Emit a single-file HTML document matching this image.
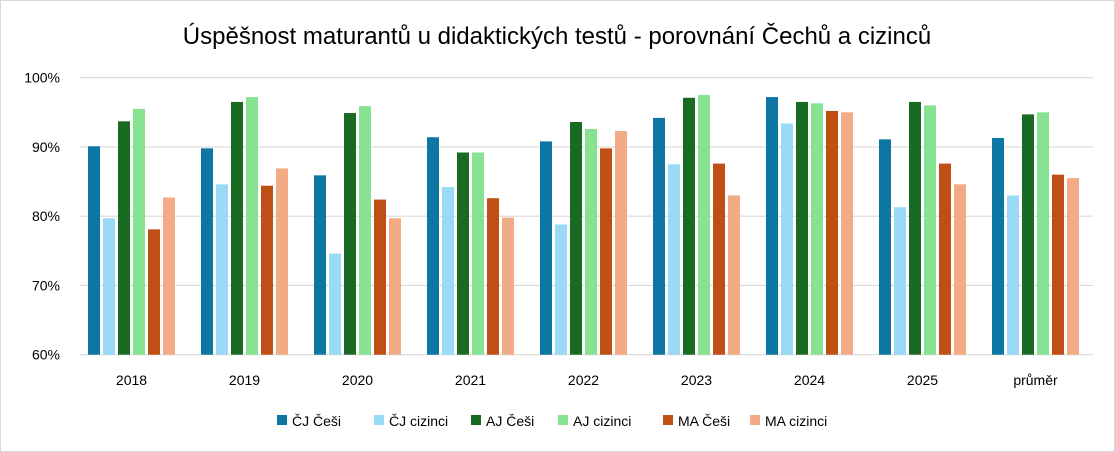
<!DOCTYPE html>
<html><head><meta charset="utf-8"><style>
body{margin:0;background:#fff;font-family:"Liberation Sans","DejaVu Sans",sans-serif}
#wrap{position:relative;width:1115px;height:452px;overflow:hidden}
</style></head><body>
<div id="wrap">
<svg id="chart" width="1115" height="452">
<rect x="0.5" y="0.5" width="1114" height="451" fill="#fff" stroke="#d9d9d9"/>
<text x="557" y="44" text-anchor="middle" font-size="24" fill="#000">Úspěšnost maturantů u didaktických testů - porovnání Čechů a cizinců</text>
<g id="grid"></g><g id="bars"></g><g id="xl"></g><g id="legend"></g>
</svg>
</div>
<script>
const categories=["2018","2019","2020","2021","2022","2023","2024","2025","průměr"];
const seriesNames=["ČJ Češi","ČJ cizinci","AJ Češi","AJ cizinci","MA Češi","MA cizinci"];
const cjCesi=[90.1,89.8,85.9,91.4,90.8,94.2,97.2,91.1,91.3];
const cjCizinci=[79.7,84.6,74.6,84.2,78.8,87.5,93.4,81.3,83.0];
const ajCesi=[93.7,96.5,94.9,89.2,93.6,97.1,96.5,96.5,94.7];
const ajCizinci=[95.5,97.2,95.9,89.2,92.6,97.5,96.3,96.0,95.0];
const maCesi=[78.1,84.4,82.4,82.6,89.8,87.6,95.2,87.6,86.0];
const maCizinci=[82.7,86.9,79.7,79.8,92.3,83.0,95.0,84.6,85.5];
const yTicks=[60,70,80,90,100];
const series=[cjCesi,cjCizinci,ajCesi,ajCizinci,maCesi,maCizinci];
const colors=["#0e76a3","#99dbf6","#196b24","#87e292","#c04f15","#f2ab85"];
const NS="http://www.w3.org/2000/svg";
const x0=80,x1=1093,band=113,yTop=77.7,yBot=354.7,vMin=60,vMax=100;
function y(v){return yBot-(v-vMin)/(vMax-vMin)*(yBot-yTop);}
function bx(g,i){return x0+8+g*band+i*15;}
function mk(t,a,p){const e=document.createElementNS(NS,t);for(const k in a)e.setAttribute(k,a[k]);p.appendChild(e);return e;}
const grid=document.getElementById('grid');
yTicks.forEach(t=>{
 const l=mk('line',{x1:x0,x2:x1,y1:y(t),y2:y(t),stroke:'#d9d9d9','stroke-width':1.2},grid);
 
 
 const tx=mk('text',{x:60,y:y(t)+5,'text-anchor':'end','font-size':14,fill:'#000'},grid);
 tx.textContent=t+'%';
 
 
});
const bars=document.getElementById('bars');
series.forEach((s,i)=>{s.forEach((v,g)=>{
 const r=mk('rect',{x:bx(g,i),y:y(v),width:12,height:yBot-y(v),fill:colors[i]},bars);
 
 
});});
const xl=document.getElementById('xl');
categories.forEach((c,g)=>{
 const t=mk('text',{x:bx(g,0)+43.5,y:385,'text-anchor':'middle','font-size':14,fill:'#000'},xl);
 t.textContent=c;
 
 
});
const lg=document.getElementById('legend');
const lx=[277,374,471,558,663,750];
seriesNames.forEach((n,i)=>{
 const g=mk('g',{},lg);
 
 
 mk('rect',{x:lx[i],y:415,width:10,height:10,fill:colors[i]},g);
 const t=mk('text',{x:lx[i]+15,y:426,'font-size':14,fill:'#000'},g);
 t.textContent=n;
});
</script>
</body></html>
